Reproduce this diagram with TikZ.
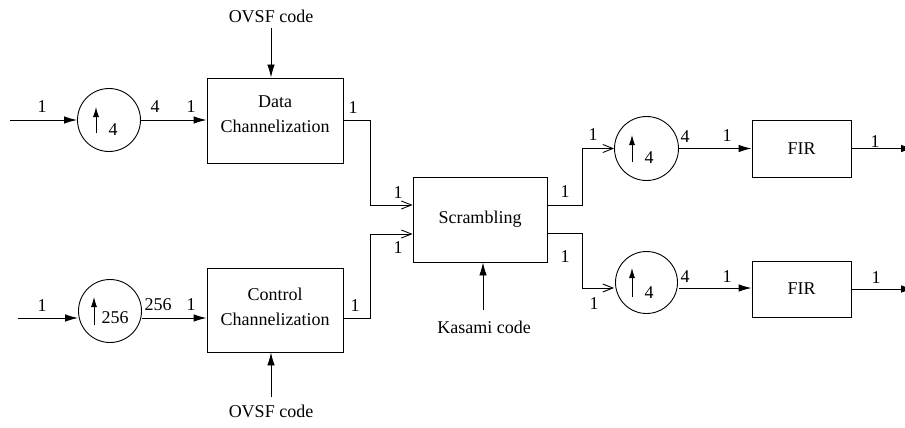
\documentclass[tikz,border=0pt]{standalone}
\usepackage{fontspec}
\setmainfont{Liberation Serif}
\newfontfamily\tmsfont{Liberation Serif}
\usetikzlibrary{arrows.meta,calc}
\begin{document}
\begin{tikzpicture}[x=1pt,y=-1pt, line width=0.9pt,
  every node/.style={font=\tmsfont\fontsize{18}{25}\selectfont, inner sep=0pt},
  blk/.style={draw, rectangle, minimum width=136pt, minimum height=85pt},
  firbox/.style={draw, rectangle, minimum width=99pt, minimum height=57pt},
  upc/.style={draw, circle, minimum size=63pt},
  fa/.style={-{Latex[length=13pt,width=7.5pt]}},
  sa/.style={-{Latex[length=10pt,width=6pt]}},
  oa/.style={-{Straight Barb[length=10pt,width=8pt]}}]
\useasboundingbox (0,0) rectangle (905,428);

% left column
\node[upc] (c1) at (109,120) {};
\node[upc] (c2) at (110,311) {};
\node[blk] (d) at (275,120.5) {};
\node (dt) at (275,114.5) [align=center] {Data\\Channelization};
\node[blk, minimum height=84pt] (ctl) at (275,310) {};
\node (ct) at (275,306.5) [align=center] {Control\\Channelization};

% up-sampling arrows
\draw[sa] ($(c1)+(-13,13)$) -- ($(c1)+(-13,-13)$);
\node (c1l) at ($(c1)+(4,10)$) {4};
\draw[sa] ($(c2)+(-16,14)$) -- ($(c2)+(-16,-14)$);
\node (c2l) at ($(c2)+(5,7)$) {256};

% centre
\node[draw, rectangle, minimum width=134pt, minimum height=85pt] (scr) at (480,219.5) {Scrambling};

% right column
\node[upc, minimum size=64pt] (c3) at (646.5,148.5) {};
\node[upc, minimum size=62pt] (c4) at (646.5,282.5) {};
\draw[sa] ($(c3)+(-14.5,13.5)$) -- ($(c3)+(-14.5,-13.5)$);
\node (c3l) at ($(c3)+(2.5,9.5)$) {4};
\draw[sa] ($(c4)+(-14.5,14.5)$) -- ($(c4)+(-14.5,-14.5)$);
\node (c4l) at ($(c4)+(2.5,10.5)$) {4};
\node[firbox] (fir1) at (801.5,148.5) {FIR};
\node[firbox, minimum height=56pt] (fir2) at (801.5,289) {FIR};

% codes
\node (ov1) at (271,16) {OVSF code};
\node (ov2) at (271,411) {OVSF code};
\node (kas) at (484,327) {Kasami code};
\coordinate (ov1a) at (271,28);
\coordinate (ov2a) at (271,397);
\coordinate (kasa) at (483,310);
\draw[fa] (ov1a) -- (ov1a |- d.north);
\draw[fa] (ov2a) -- (ov2a |- ctl.south);
\draw[fa] (kasa) -- (kasa |- scr.south);

% data path
\coordinate (i1) at (10,120);
\draw[fa] (i1) -- (c1.west);
\draw[fa] (c1.east) -- (c1.east -| d.west);
\coordinate (j1) at (370,205);
\draw[oa] (d.east) -| (j1) -- (j1 -| scr.west);

% control path
\coordinate (i2) at (18,318);
\coordinate (co) at (343,318);
\coordinate (j2) at (370,234);
\draw[fa] (i2) -- (i2 -| c2.west);
\draw[fa] (c2.east |- i2) -- (i2 -| ctl.west);
\draw[oa] (co) -| (j2) -- (j2 -| scr.west);

% scrambling outputs
\coordinate (k1) at (582,205);
\coordinate (k2) at (582,233);
\coordinate (r2) at (614,288);
\draw[oa] (k1 -| scr.east) -- (k1) |- (c3.west);
\draw[oa] (k2 -| scr.east) -- (k2) |- (r2);
\draw[fa] (c3.east) -- (c3.east -| fir1.west);
\coordinate (r3) at (679,288);
\draw[fa] (r3) -- (r3 -| fir2.west);
\coordinate (o1) at (914,148.5);
\coordinate (o2) at (914,289);
\draw[fa] (fir1.east) -- (o1);
\draw[fa] (fir2.east |- o2) -- (o2);

% rate labels
\node (l1) at (42,107) {1};
\node (l2) at (155,107) {4};
\node (l3) at (191,107) {1};
\node (l4) at (353,108) {1};
\node (l5) at (42,306) {1};
\node (l6) at (158,305) {256};
\node (l7) at (191,305) {1};
\node (l8) at (355,306) {1};
\node (l9) at (398,193) {1};
\node (l10) at (398,248) {1};
\node (l11) at (565,192) {1};
\node (l12) at (565,257) {1};
\node (l13) at (593,135) {1};
\node (l14) at (594,304) {1};
\node (l15) at (685,137) {4};
\node (l16) at (727,136) {1};
\node (l17) at (685,277) {4};
\node (l18) at (727,277) {1};
\node (l19) at (875,142) {1};
\node (l20) at (876,278) {1};
\end{tikzpicture}
\end{document}
